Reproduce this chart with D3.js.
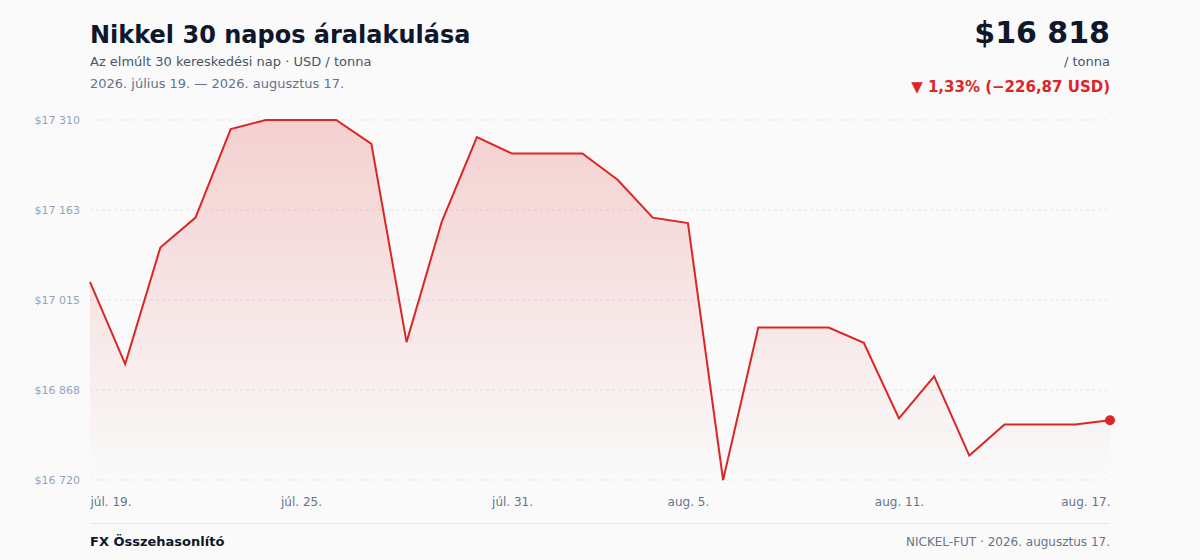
<!DOCTYPE html>
<html><head><meta charset="utf-8">
<script src="https://cdn.jsdelivr.net/npm/d3@7/dist/d3.min.js"></script>
<style>
html,body{margin:0;padding:0;background:#fafafa;}
svg{display:block;font-family:"DejaVu Sans",sans-serif;}
</style></head>
<body>
<svg id="chart" width="1200" height="560"></svg>
<script>
// ---- data ----
const dates = d3.range(30).map(i => new Date(2026, 6, 19 + i));
const prices = [17044.87, 16910, 17101, 17150, 17295, 17310, 17310, 17310, 17271, 16946,
                17143, 17282, 17255, 17255, 17255, 17212, 17150, 17141, 16720, 16970,
                16970, 16970, 16945, 16821, 16890, 16760, 16811, 16811, 16811, 16818];
const tickDates = [new Date(2026,6,19), new Date(2026,6,25), new Date(2026,6,31), new Date(2026,7,5), new Date(2026,7,11), new Date(2026,7,17)];
const monthAbbr = ["jan.","febr.","márc.","ápr.","máj.","jún.","júl.","aug.","szept.","okt.","nov.","dec."];
const titleText = "Nikkel 30 napos áralakulása";
const subtitleText = "Az elmúlt 30 kereskedési nap · USD / tonna";
const rangeText = "2026. július 19. — 2026. augusztus 17.";
const priceText = "$16 818";
const unitText = "/ tonna";
const changeText = "▼ 1,33% (−226,87 USD)";
const footerLeft = "FX Összehasonlító";
const footerRight = "NICKEL-FUT · 2026. augusztus 17.";

const svg = d3.select("#chart");
const m = {left: 90, right: 1110, top: 120, bottom: 480};
const red = "#dc2626";

const fmtNum = v => d3.format(",.0f")(v).replace(/,/g, " ");

const x = d3.scaleTime().domain(d3.extent(dates)).range([m.left, m.right]);
const yMin = d3.min(prices), yMax = d3.max(prices);
const y = d3.scaleLinear().domain([yMin, yMax]).range([m.bottom, m.top]);
const yTicks = d3.range(5).map(i => yMin + i * (yMax - yMin) / 4);

// header
svg.append("text").attr("x", 90).attr("y", 43).attr("font-size", 24).attr("font-weight", "bold")
  .attr("fill", "#0f172a").text(titleText);
svg.append("text").attr("x", 90).attr("y", 66).attr("font-size", 13).attr("fill", "#475569").text(subtitleText);
svg.append("text").attr("x", 90).attr("y", 88).attr("font-size", 13).attr("fill", "#64748b").text(rangeText);
svg.append("text").attr("x", 1110).attr("y", 43).attr("text-anchor", "end").attr("font-size", 30)
  .attr("font-weight", "bold").attr("fill", "#0f172a").text(priceText);
svg.append("text").attr("x", 1110).attr("y", 66).attr("text-anchor", "end").attr("font-size", 13)
  .attr("fill", "#475569").text(unitText);
svg.append("text").attr("x", 1110).attr("y", 92).attr("text-anchor", "end").attr("font-size", 15)
  .attr("font-weight", "bold").attr("fill", red).text(changeText);

// gradient
const defs = svg.append("defs");
const grad = defs.append("linearGradient").attr("id", "areaGrad")
  .attr("gradientUnits", "userSpaceOnUse").attr("x1", 0).attr("x2", 0).attr("y1", m.top).attr("y2", m.bottom);
grad.append("stop").attr("offset", "0%").attr("stop-color", red).attr("stop-opacity", 0.2);
grad.append("stop").attr("offset", "100%").attr("stop-color", red).attr("stop-opacity", 0.0);

// grid + y labels
const yAxis = d3.axisLeft(y).tickValues(yTicks).tickSize(0).tickPadding(10).tickFormat(d => "$" + fmtNum(d));
const gy = svg.append("g").attr("transform", `translate(${m.left},0)`).call(yAxis);
gy.select(".domain").remove();
gy.selectAll("text").attr("font-size", 11).attr("fill", "#94a3b8").attr("font-family", "DejaVu Sans, sans-serif");
svg.append("g").selectAll("line").data(yTicks).join("line")
  .attr("x1", m.left).attr("x2", m.right)
  .attr("y1", d => y(d)).attr("y2", d => y(d))
  .attr("stroke", "#e5e7eb").attr("stroke-dasharray", "3,3");

// area + line
const data = dates.map((d, i) => ({d, v: prices[i]}));
svg.append("path").datum(data)
  .attr("d", d3.area().x(p => x(p.d)).y0(m.bottom).y1(p => y(p.v)))
  .attr("fill", "url(#areaGrad)");
svg.append("path").datum(data)
  .attr("d", d3.line().x(p => x(p.d)).y(p => y(p.v)))
  .attr("fill", "none").attr("stroke", red).attr("stroke-width", 2).attr("stroke-linejoin", "miter");
const last = data[data.length - 1];
svg.append("circle").attr("cx", x(last.d)).attr("cy", y(last.v)).attr("r", 5).attr("fill", red);

// x axis
const xAxis = d3.axisBottom(x).tickValues(tickDates).tickSize(0).tickPadding(0)
  .tickFormat(d => monthAbbr[d.getMonth()] + " " + d.getDate() + ".");
const gx = svg.append("g").attr("transform", `translate(0,${m.bottom + 26})`).call(xAxis);
gx.select(".domain").remove();
gx.selectAll("text").attr("font-size", 12).attr("fill", "#64748b").attr("dy", 0)
  .attr("font-family", "DejaVu Sans, sans-serif")
  .attr("text-anchor", (d, i) => i === 0 ? "start" : (i === tickDates.length - 1 ? "end" : "middle"));

// footer
svg.append("line").attr("x1", 90).attr("x2", 1110).attr("y1", 523.5).attr("y2", 523.5)
  .attr("stroke", "#e5e7eb").attr("stroke-width", 1);
svg.append("text").attr("x", 90).attr("y", 546).attr("font-size", 13).attr("font-weight", "bold")
  .attr("fill", "#0f172a").text(footerLeft);
svg.append("text").attr("x", 1110).attr("y", 546).attr("text-anchor", "end").attr("font-size", 12)
  .attr("fill", "#64748b").text(footerRight);
</script>
</body></html>
